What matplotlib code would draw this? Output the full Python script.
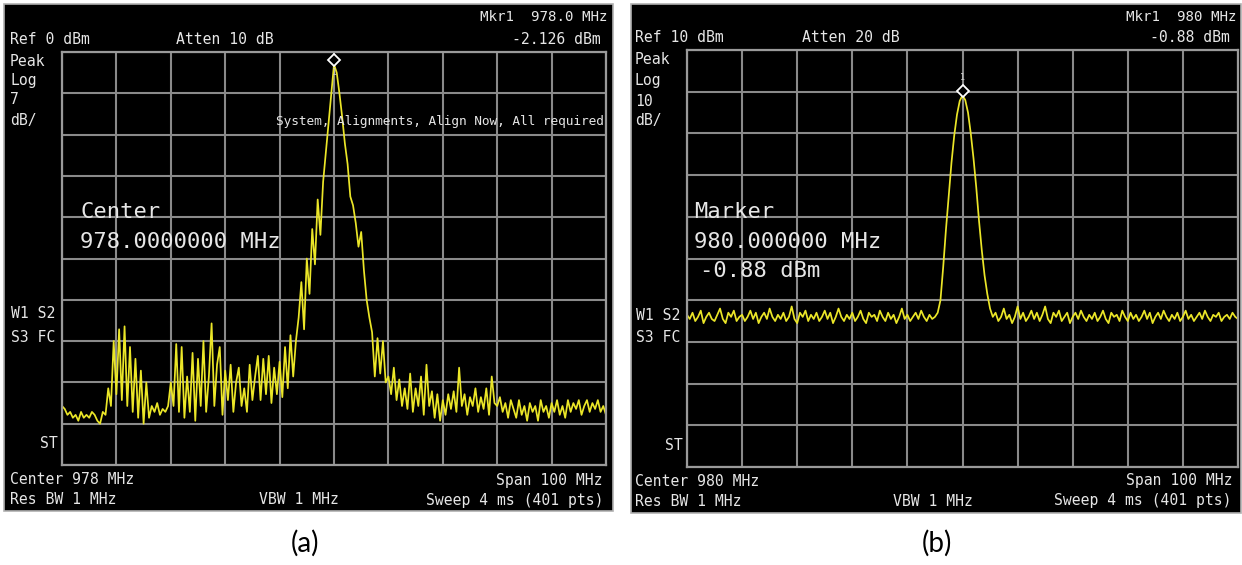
import numpy as np
import matplotlib
matplotlib.use("Agg")
import matplotlib.pyplot as plt
from matplotlib.patches import Rectangle
from matplotlib.transforms import offset_copy

# trace (a): 928-1028 MHz, 0.5 MHz steps, dBm
trace_a = [
    -60, -60.5, -61.5, -61, -62, -61.5, -62.5, -61, -62, -61.5, -62, -61, -61.5, -62.5, -63, -61, -61.5,
    -57, -60, -49, -58, -47, -59, -46.5, -60, -50, -61, -52, -62, -54, -63, -56, -62,
    -60, -61, -59.5, -61.5, -60.5, -61, -60,
    -56, -60, -49.5, -61, -50, -62, -55, -61, -51, -62.5,
    -52, -60, -49, -61, -55, -46, -60, -53, -50, -61.5,
    -54, -59, -53, -61, -56, -53.5, -60, -57, -61, -53,
    -59, -55, -51.5, -59, -52, -58, -51.5, -59.5, -53.5, -58,
    -52.5, -58.5, -50, -57, -48, -55, -49,
    -45, -39, -47, -35, -41, -30, -36, -25, -31, -22, -17, -12, -7, -2.126,
    -3.5, -7, -11, -15.5, -19, -24.5, -26, -29, -33, -30.5,
    -37, -42, -45, -47.5, -55, -48.5, -54.5, -49, -56, -55,
    -58, -53.5, -59, -55.5, -60, -57, -60.5, -54.5, -61, -57,
    -60, -55, -61.5, -53, -60, -57.5, -62, -58, -62.5,
    -59, -61.5, -58, -60.5, -57.5, -61, -53.5, -60, -58, -61.5,
    -58.5, -60, -57, -61, -58.5, -60.5, -57, -61.5, -55, -59.5,
    -60, -58.5, -61, -59.5, -62, -59, -60.5, -62, -59, -61.5,
    -60, -62.5, -59.5, -61, -60, -62.5, -59, -61, -60, -62,
    -59.5, -61, -59, -61.5, -60, -62, -59, -61, -59.5, -60.5,
    -59, -61.5, -60, -59, -61, -59.5, -60.5, -59, -61, -60,
    -61.5,
]

# trace (b): 930-1030 MHz, 0.5 MHz steps, dBm
trace_b = [
    -53.5, -54.5, -53, -55, -54, -52.5, -55.5, -54, -53, -54.5,
    -55, -53.5, -52, -54.5, -55.5, -53, -54, -52.5, -55, -54,
    -53.5, -55, -54, -52.5, -54.5, -53, -55.5, -54, -53, -54.5,
    -52, -54, -55, -53.5, -54.5, -53, -55, -54, -51.5, -54.5,
    -55.5, -53, -54, -52.5, -55, -53.5, -54.5, -53, -55, -54,
    -52.5, -54.5, -53, -55.5, -54, -52, -54, -55, -53.5, -54.5,
    -53, -55, -54, -52.5, -54.5, -55.5, -53, -54, -53.5, -55,
    -52.5, -54, -55, -53, -54.5, -53.5, -55.5, -54, -52, -54.5,
    -53.5, -55, -54, -53, -54.5, -52.5, -54, -55, -53.5, -54.5,
    -54,
    -53, -50, -42, -33, -25, -17, -10.5, -5.5, -2.2, -0.88,
    -2, -5, -10, -16, -23, -31, -38, -44, -48.5, -52, -54,
    -53, -55, -54, -52, -54.5, -53.5, -55.5, -54, -51.5, -54.5,
    -53, -55, -54, -52.5, -54.5, -53, -55, -53.5, -51.5, -54.5,
    -55.5, -53, -54, -52.5, -55, -54, -53, -55.5, -54, -53,
    -54.5, -52.5, -54, -55, -53.5, -54.5, -53, -55, -54, -52.5,
    -54.5, -55.5, -53, -54, -53.5, -55, -52.5, -54, -55, -53,
    -54.5, -53.5, -55, -54, -52.5, -54.5, -53, -55.5, -54, -53,
    -54.5, -52.5, -54, -55, -53.5, -54.5, -53, -55, -54, -52.5,
    -54.5, -53.5, -55, -54, -53, -54.5, -52.5, -54, -55, -53.5,
    -54, -53, -55, -54, -53.5, -54.5, -53, -54, -54.5,
]

start_a, start_b = 928.0, 930.0
ref_a, ref_b = 0, 10
scale_a, scale_b = 7, 10
mkr_a = (978.0, -2.126)
mkr_b = (980.0, -0.88)

W, H = 1242, 565
YEL = "#ebe628"
TXT = "#e6e6e6"
GRID = "#8a8a8a"
MONO = "DejaVu Sans Mono"

fig = plt.figure(figsize=(W / 100, H / 100), dpi=100)
fig.patch.set_facecolor("white")

bg = fig.add_axes([0, 0, 1, 1])
bg.set_xlim(0, W)
bg.set_ylim(H, 0)
bg.axis("off")

# black instrument screens
for x0, y0, x1, y1 in [(4, 4, 613, 511), (631, 4, 1241, 513)]:
    bg.add_patch(Rectangle((x0, y0), x1 - x0, y1 - y0, facecolor="black",
                           edgecolor="#b0b0b0", lw=1.2))


def screen_axes(x0, y0, x1, y1, f0, ref, scale):
    ax = fig.add_axes([x0 / W, 1 - y1 / H, (x1 - x0) / W, (y1 - y0) / H])
    ax.set_facecolor("none")
    ax.set_xlim(f0, f0 + 100)
    ax.set_ylim(ref - 10 * scale, ref)
    ax.set_xticks(np.arange(f0, f0 + 101, 10))
    ax.set_yticks(np.arange(ref - 10 * scale, ref + 1, scale))
    ax.tick_params(length=0, labelbottom=False, labelleft=False)
    ax.grid(True, color=GRID, lw=1.5)
    for s in ax.spines.values():
        s.set_color("#9a9a9a")
        s.set_linewidth(1.6)
    return ax


def add_marker(ax, mkr, label_dy):
    ax.plot(*mkr, marker="D", ms=6, mfc="black", mec="white", mew=1.3, zorder=5,
            transform=offset_copy(ax.transData, fig, y=3.5, units="points"))
    ax.annotate("1", mkr, xytext=(0, label_dy), textcoords="offset points", ha="center",
                va="center", color="#cfcfcf", family=MONO, size=6)


# panel (a)
ax_a = screen_axes(62, 52, 606, 465, start_a, ref_a, scale_a)
fa = start_a + 0.5 * np.arange(len(trace_a))
ax_a.plot(fa, trace_a, color=YEL, lw=1.25)
add_marker(ax_a, mkr_a, -6)

# panel (b)
ax_b = screen_axes(687, 50, 1238, 467, start_b, ref_b, scale_b)
fb = start_b + 0.5 * np.arange(len(trace_b))
ax_b.plot(fb, trace_b, color=YEL, lw=1.25)
add_marker(ax_b, mkr_b, 13)

# annotation layer above the graticules
fg = fig.add_axes([0, 0, 1, 1])
fg.set_xlim(0, W)
fg.set_ylim(H, 0)
fg.axis("off")


def txt(x, y, s, ha="left", size=10.6):
    fg.text(x, y, s, ha=ha, va="center", color=TXT, family=MONO, size=size)


BIG = 15.9

txt(607, 17, "Mkr1  978.0 MHz", ha="right", size=10.2)
txt(10, 40, "Ref 0 dBm")
txt(176, 40, "Atten 10 dB")
txt(601, 40, "-2.126 dBm", ha="right")
for y, s in [(61, "Peak"), (81, "Log"), (100, "7"), (121, "dB/")]:
    txt(10, y, s)
txt(604, 121, "System, Alignments, Align Now, All required", ha="right", size=9.2)
txt(80, 212, "Center", size=BIG)
txt(80, 242, "978.0000000 MHz", size=BIG)
txt(11, 314, "W1 S2")
txt(11, 337, "S3 FC")
txt(58, 443, "ST", ha="right")
txt(10, 480, "Center 978 MHz")
txt(10, 500, "Res BW 1 MHz")
txt(259, 500, "VBW 1 MHz")
txt(603, 480, "Span 100 MHz", ha="right")
txt(603, 500, "Sweep 4 ms (401 pts)", ha="right")

txt(1237, 17, "Mkr1  980 MHz", ha="right", size=10.2)
txt(635, 38, "Ref 10 dBm")
txt(802, 38, "Atten 20 dB")
txt(1230, 38, "-0.88 dBm", ha="right")
for y, s in [(59, "Peak"), (80, "Log"), (101, "10"), (121, "dB/")]:
    txt(635, y, s)
txt(694, 212, "Marker", size=BIG)
txt(694, 242, "980.000000 MHz", size=BIG)
txt(700, 271, "-0.88 dBm", size=BIG)
txt(636, 316, "W1 S2")
txt(636, 338, "S3 FC")
txt(683, 445, "ST", ha="right")
txt(635, 481, "Center 980 MHz")
txt(635, 501, "Res BW 1 MHz")
txt(893, 501, "VBW 1 MHz")
txt(1233, 481, "Span 100 MHz", ha="right")
txt(1232, 501, "Sweep 4 ms (401 pts)", ha="right")

# sub-figure labels
fg.text(305, 543, "(a)", ha="center", va="center", family="Lato", size=20, color="black")
fg.text(937, 543, "(b)", ha="center", va="center", family="Lato", size=20, color="black")

fig.savefig("out.png", dpi=100, facecolor="white")
